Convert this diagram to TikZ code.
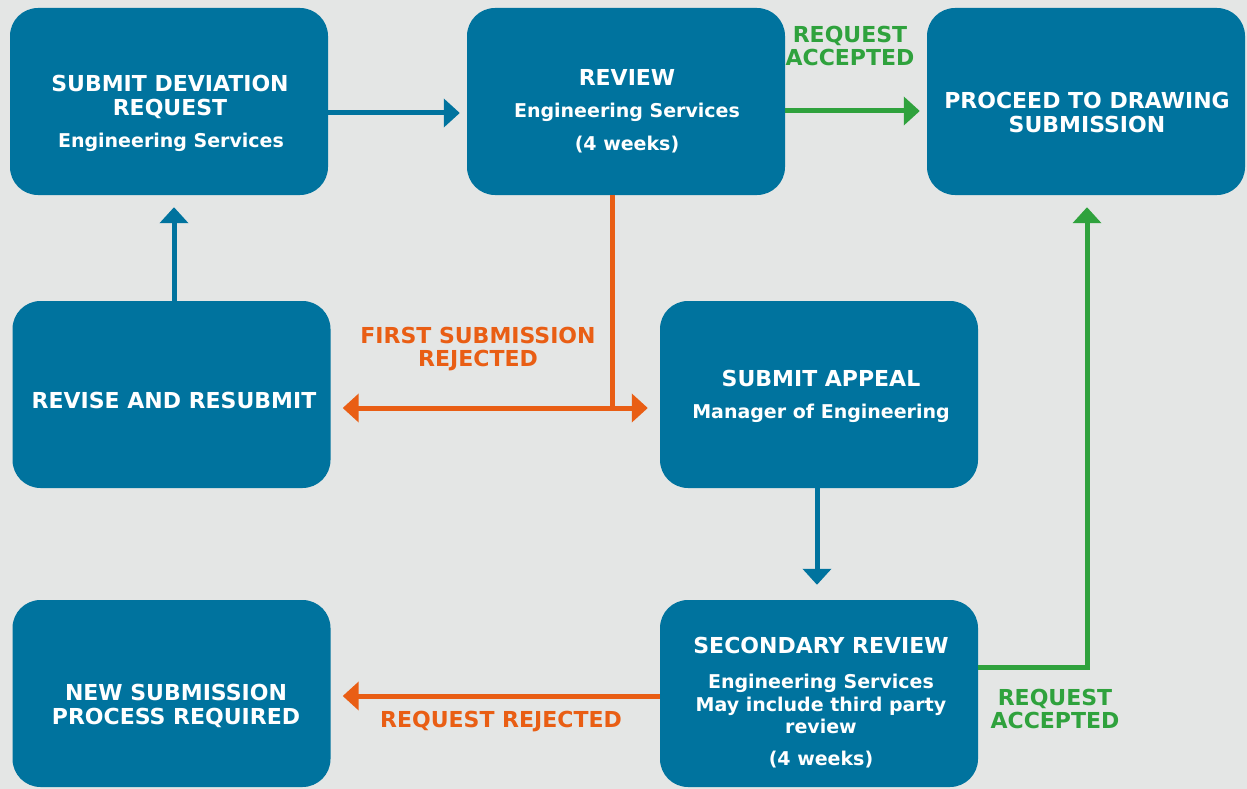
\documentclass[tikz,border=0pt]{standalone}
\usepackage{fontspec}
\setmainfont{DejaVu Sans}
\usetikzlibrary{arrows.meta}
\definecolor{boxblue}{HTML}{00739E}
\definecolor{pagebg}{HTML}{E4E6E5}
\definecolor{rejorange}{HTML}{E95E14}
\definecolor{accgreen}{HTML}{2FA23D}
\begin{document}
\begin{tikzpicture}[x=1pt,y=-1pt,
  stepbox/.style={fill=boxblue, rounded corners=28pt, minimum width=318pt,
    minimum height=187pt, inner sep=0pt, draw=none},
  head/.style={text=white, font=\bfseries\fontsize{22}{23.5}\selectfont,
    align=center, inner sep=0pt},
  sub/.style={text=white, font=\bfseries\fontsize{19}{22.5}\selectfont,
    align=center, inner sep=0pt},
  lbl/.style={font=\bfseries\fontsize{22}{23}\selectfont, align=center, inner sep=0pt},
  flow/.style={line width=5pt, -{Triangle[length=16pt,width=28pt]}},
  twoway/.style={line width=5pt, {Triangle[length=16pt,width=28pt]}-{Triangle[length=16pt,width=28pt]}}]
  % page background
  \fill[pagebg] (0,0) rectangle (1247,789);
  \useasboundingbox (0,0) rectangle (1247,789);

  % process steps
  \node[stepbox] (b1) at (169,101.5) {};
  \node[stepbox] (b2) at (626,101.5) {};
  \node[stepbox] (b3) at (1086,101.5) {};
  \node[stepbox] (b4) at (171.5,394.5) {};
  \node[stepbox] (b5) at (819,394.5) {};
  \node[stepbox] (b6) at (171.5,693.5) {};
  \node[stepbox] (b7) at (819,693.5) {};

  % step texts
  \node[head] (t1) at (170,97) {SUBMIT DEVIATION\\REQUEST};
  \node[sub]  (s1) at (171,142) {Engineering Services};
  \node[head] (t2) at (627,77) {REVIEW};
  \node[sub]  (s2) at (627,112) {Engineering Services};
  \node[sub]  (w2) at (627,145) {(4 weeks)};
  \node[head] (t3) at (1087,112.5) {PROCEED TO DRAWING\\SUBMISSION};
  \node[head] (t4) at (174,400) {REVISE AND RESUBMIT};
  \node[head] (t5) at (821,378) {SUBMIT APPEAL};
  \node[sub]  (s5) at (821,413) {Manager of Engineering};
  \node[head] (t6) at (176,706) {NEW SUBMISSION\\PROCESS REQUIRED};
  \node[head] (t7) at (821,645) {SECONDARY REVIEW};
  \node[sub]  (s7) at (821,704) {Engineering Services\\May include third party\\review};
  \node[sub]  (w7) at (821,760) {(4 weeks)};

  % connectors
  \draw[flow, boxblue] ([yshift=-11.5pt]b1.east) -- ([xshift=-7pt,yshift=-11.5pt]b2.west);
  \draw[flow, accgreen] ([yshift=-9.5pt]b2.east) -- ([xshift=-7pt,yshift=-9.5pt]b3.west);
  \draw[flow, boxblue] ([xshift=2.5pt]b4.north) -- ([xshift=5pt,yshift=-12pt]b1.south);
  \coordinate (rj) at (612,408);
  \draw[rejorange, line width=5pt] ([xshift=-14pt]b2.south) -- (rj);
  \draw[twoway, rejorange] ([xshift=12pt,yshift=-13.5pt]b4.east) -- ([xshift=-12pt,yshift=-13.5pt]b5.west);
  \draw[flow, boxblue] ([xshift=-2pt]b5.south) -- ([xshift=-2pt,yshift=15pt]b7.north);
  \draw[flow, rejorange] ([yshift=-2.5pt]b7.west) -- ([xshift=12pt,yshift=-2.5pt]b6.east);
  \draw[flow, accgreen] ([yshift=26.5pt]b7.east) -| ([xshift=1pt,yshift=-12pt]b3.south);

  % connector labels
  \node[lbl, text=accgreen] (l1) at (850,45.5) {REQUEST\\ACCEPTED};
  \node[lbl, text=rejorange] (l2) at (478,349) {FIRST SUBMISSION\\REJECTED};
  \node[lbl, text=rejorange] (l3) at (501,722) {REQUEST REJECTED};
  \node[lbl, text=accgreen] (l4) at (1055,709) {REQUEST\\ACCEPTED};
\end{tikzpicture}
\end{document}
